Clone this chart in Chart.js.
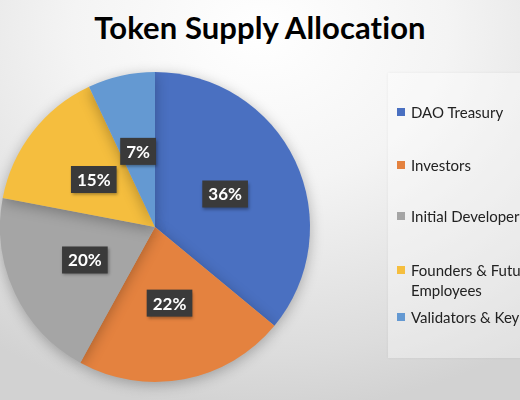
<!DOCTYPE html>
<html>
<head>
<meta charset="utf-8">
<script src="https://cdn.jsdelivr.net/npm/chart.js@4.4.1/dist/chart.umd.min.js"></script>
<style>
  html, body { margin: 0; padding: 0; }
  body {
    width: 520px; height: 400px; overflow: hidden; position: relative;
    background: radial-gradient(ellipse 90% 95% at 50% 8%, #ffffff 0%, #f4f4f4 40%, #dcdcdc 85%, #d2d2d2 100%);
    font-family: Lato, "Open Sans", sans-serif;
  }
  #title {
    position: absolute; left: 0; width: 520px; top: 8px; text-align: center;
    font-weight: 700; font-size: 31px; color: #000; letter-spacing: 0.1px;
  }
  #wrap { position: absolute; left: 0; top: 0; width: 520px; height: 400px; }
  #legend {
    position: absolute; left: 388px; top: 73px; width: 170px; height: 285px;
    background: rgba(255,255,255,0.35);
    box-shadow: 0 0 3px rgba(0,0,0,0.06);
  }
  .item { position: absolute; left: 9px; width: 150px; font-size: 15px; line-height: 20px; color: #222; white-space: nowrap; }
  .item.wrap { white-space: normal; }
  .sw { position: absolute; left: 0; top: 6px; width: 8px; height: 8px; }
  .txt { margin-left: 14px; display: block; }
</style>
</head>
<body>
<div id="title">Token Supply Allocation</div>
<div id="wrap"><canvas id="chart" width="520" height="400"></canvas></div>
<div id="legend"></div>
<script>
const LABELS = ['DAO Treasury', 'Investors', 'Initial Developers', 'Founders & Future Employees', 'Validators & Key Partners'];
const SHARES = [36, 22, 20, 15, 7];
const COLORS = ['#4a70c1', '#e4823f', '#a5a5a5', '#f5be3e', '#6499d2'];
// legend row tops (px inside the legend box)
const LEGEND_TOPS = [29, 82, 133, 187, 234];

const legend = document.getElementById('legend');
LABELS.forEach((name, i) => {
  const row = document.createElement('div');
  row.className = name.length > 25 ? 'item wrap' : 'item';
  row.style.top = LEGEND_TOPS[i] + 'px';
  row.innerHTML = `<span class="sw" style="background:${COLORS[i]}"></span><span class="txt"></span>`;
  row.querySelector('.txt').textContent = name;
  legend.appendChild(row);
});

// Soft drop shadow under the pie.
const pieShadow = {
  id: 'pieShadow',
  beforeDatasetDraw(chart) {
    const ctx = chart.ctx;
    ctx.save();
    ctx.shadowColor = 'rgba(0,0,0,0.28)';
    ctx.shadowBlur = 14;
    ctx.shadowOffsetX = 0;
    ctx.shadowOffsetY = 3;
  },
  afterDatasetDraw(chart) {
    chart.ctx.restore();
  },
};

// Percent labels in dark boxes at each slice's mid point.
const sliceLabels = {
  id: 'sliceLabels',
  afterDatasetsDraw(chart) {
    const ctx = chart.ctx;
    const meta = chart.getDatasetMeta(0);
    ctx.save();
    ctx.font = 'bold 17px Lato, "Open Sans", sans-serif';
    ctx.textAlign = 'center';
    ctx.textBaseline = 'middle';
    meta.data.forEach((arc, i) => {
      const { x, y } = arc.tooltipPosition();
      const text = SHARES[i] + '%';
      const w = ctx.measureText(text).width + 12;
      const h = 27;
      ctx.save();
      ctx.shadowColor = 'rgba(0,0,0,0.35)';
      ctx.shadowBlur = 3;
      ctx.shadowOffsetX = 1;
      ctx.shadowOffsetY = 2;
      ctx.fillStyle = '#3a3a3a';
      ctx.fillRect(x - w / 2, y - h / 2, w, h);
      ctx.restore();
      ctx.fillStyle = '#ffffff';
      ctx.fillText(text, x, y + 1);
    });
    ctx.restore();
  },
};

new Chart(document.getElementById('chart'), {
  type: 'pie',
  data: {
    labels: LABELS,
    datasets: [{
      data: SHARES,
      backgroundColor: COLORS,
      borderWidth: 0,
    }],
  },
  options: {
    responsive: false,
    animation: false,
    layout: { padding: { left: 0, right: 210, top: 72, bottom: 18 } },
    plugins: {
      legend: { display: false },
      tooltip: { enabled: false },
      title: { display: false },
    },
  },
  plugins: [pieShadow, sliceLabels],
});
</script>
</body>
</html>
